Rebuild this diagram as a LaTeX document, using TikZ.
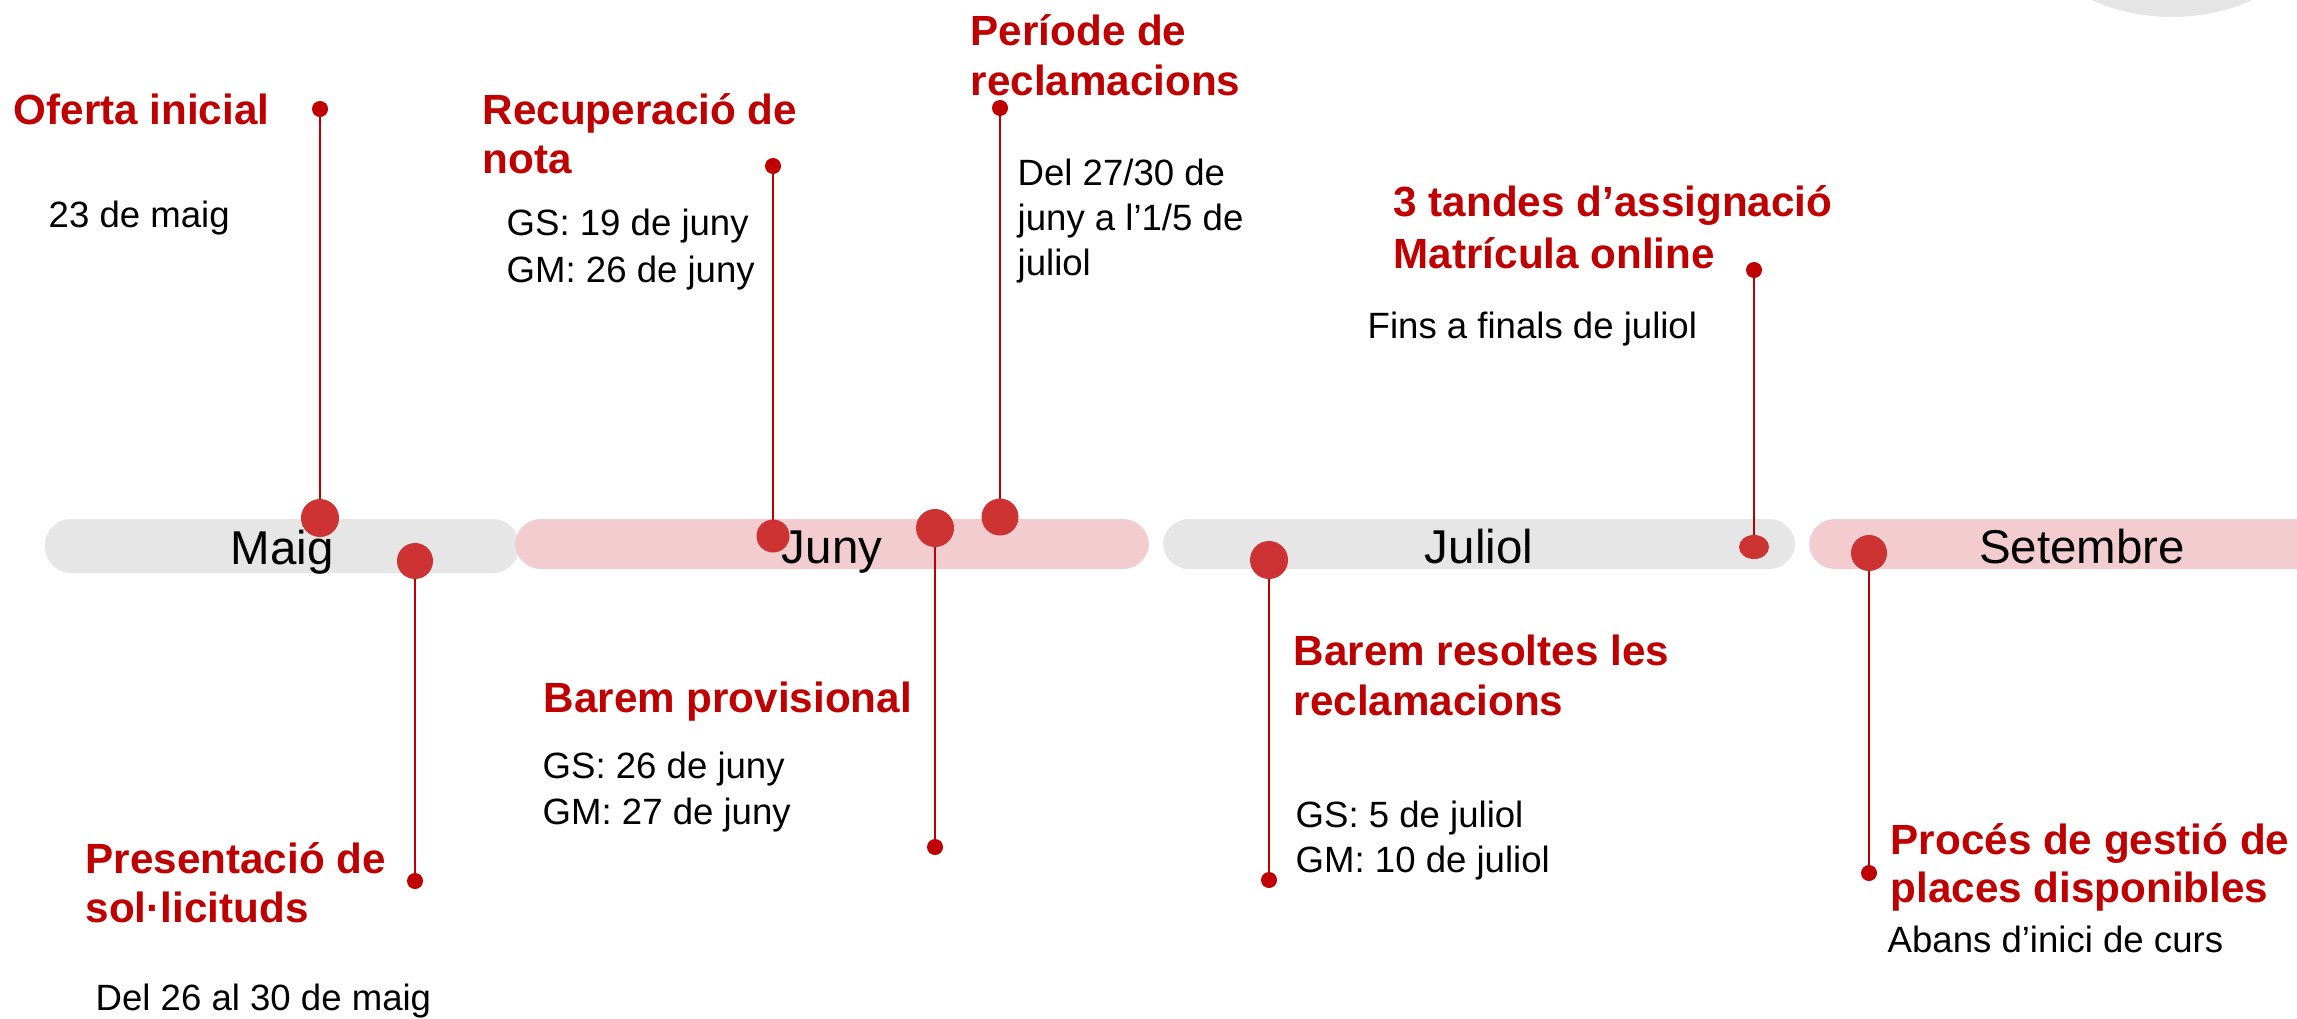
\documentclass[tikz,border=0pt]{standalone}
\usepackage{fontspec}
\setmainfont{Liberation Sans}
\usetikzlibrary{backgrounds,shapes.geometric}
\definecolor{tred}{RGB}{192,0,0}
\definecolor{dotred}{RGB}{205,51,51}
\definecolor{bargray}{RGB}{230,230,230}
\definecolor{barpink}{RGB}{242,204,206}
\definecolor{arcgray}{RGB}{229,229,229}
\tikzset{
  ttl/.style={anchor=base west, inner sep=0pt, text=tred, font=\fontsize{12pt}{14pt}\selectfont\bfseries},
  txt/.style={anchor=base west, inner sep=0pt, text=black, font=\fontsize{10.4pt}{13pt}\selectfont},
  month/.style={anchor=base, inner sep=0pt, text=black, font=\fontsize{13.5pt}{16pt}\selectfont},
  bigdot/.style={circle, fill=dotred, inner sep=0pt, minimum size=#1},
  bigdot/.default=0.37cm,
  smalldot/.style={circle, fill=tred, inner sep=0pt, minimum size=0.16cm},
  stem/.style={draw=tred, line width=0.8pt},
  barstyle/.style={rounded corners=0.26cm}
}
\begin{document}
\begin{tikzpicture}[x=0.01cm, y=-0.01cm]
\useasboundingbox (0,0) rectangle (2297,1018);
\clip (0,0) rectangle (2297,1018);
% small end dots
\node[smalldot] (s1) at (320,109) {};
\node[smalldot] (s2) at (415,881) {};
\node[smalldot] (s3) at (773,166) {};
\node[smalldot] (s4) at (935,847) {};
\node[smalldot] (s5) at (1000,108) {};
\node[smalldot] (s6) at (1269,880) {};
\node[smalldot] (s7) at (1754,270) {};
\node[smalldot] (s8) at (1869,873) {};
% big dots on the timeline
\node[bigdot=0.38cm] (d1) at (320,518) {};
\node[bigdot=0.36cm] (d2) at (415,561) {};
\node[bigdot=0.33cm] (d3) at (773,536) {};
\node[bigdot=0.38cm] (d4) at (935,528) {};
\node[bigdot=0.37cm] (d5) at (1000,517) {};
\node[bigdot=0.38cm] (d6) at (1269,560) {};
\node[ellipse, fill=dotred, inner sep=0pt, minimum width=0.30cm, minimum height=0.24cm] (d7) at (1754,547) {};
\node[bigdot=0.36cm] (d8) at (1869,553) {};
\begin{pgfonlayer}{background}
\fill[arcgray] (2172,-182) circle (199);
\fill[bargray, barstyle] (45,519) rectangle (519,573);
\fill[barpink, barstyle] (515,519) rectangle (1149,569);
\fill[bargray, barstyle] (1163,519) rectangle (1795,569);
\fill[barpink, barstyle] (1809,519) rectangle (2400,569);
\draw[stem] (s1.center) -- (d1.center);
\draw[stem] (s2.center) -- (d2.center);
\draw[stem] (s3.center) -- (d3.center);
\draw[stem] (s4.center) -- (d4.center);
\draw[stem] (s5.center) -- (d5.center);
\draw[stem] (s6.center) -- (d6.center);
\draw[stem] (s7.center) -- (d7.center);
\draw[stem] (s8.center) -- (d8.center);
\end{pgfonlayer}
% months
\node[month] (mMaig) at (282,564) {Maig};
\node[month] (mJuny) at (832,563) {Juny};
\node[month] (mJuliol) at (1479,563) {Juliol};
\node[month] (mSet) at (2082,563) {Setembre};
% texts
\node[ttl] (t1) at (13,124) {Oferta inicial};
\node[txt] (x1) at (48,227) {23 de maig};
\node[ttl] (t3a) at (482,124) {Recuperació de};
\node[ttl] (t3b) at (482,173) {nota};
\node[txt] (x3a) at (506,235) {GS: 19 de juny};
\node[txt] (x3b) at (506,282) {GM: 26 de juny};
\node[ttl] (t5a) at (970,45) {Període de};
\node[ttl] (t5b) at (970,95) {reclamacions};
\node[txt] (x5a) at (1017,185) {Del 27/30 de};
\node[txt] (x5b) at (1017,230) {juny a l’1/5 de};
\node[txt] (x5c) at (1017,275) {juliol};
\node[ttl] (t7a) at (1393,216) {3 tandes d’assignació};
\node[ttl] (t7b) at (1393,268) {Matrícula online};
\node[txt] (x7) at (1367,338) {Fins a finals de juliol};
\node[ttl] (t2a) at (85,873) {Presentació de};
\node[ttl] (t2b) at (85,922) {sol·licituds};
\node[txt] (x2) at (95,1010) {Del 26 al 30 de maig};
\node[ttl] (t4) at (543,712) {Barem provisional};
\node[txt] (x4a) at (542,778) {GS: 26 de juny};
\node[txt] (x4b) at (542,824) {GM: 27 de juny};
\node[ttl] (t6a) at (1293,665) {Barem resoltes les};
\node[ttl] (t6b) at (1293,715) {reclamacions};
\node[txt] (x6a) at (1295,827) {GS: 5 de juliol};
\node[txt] (x6b) at (1295,872) {GM: 10 de juliol};
\node[ttl] (t8a) at (1890,854) {Procés de gestió de};
\node[ttl] (t8b) at (1890,902) {places disponibles};
\node[txt] (x8) at (1887,952) {Abans d’inici de curs};
\end{tikzpicture}
\end{document}
